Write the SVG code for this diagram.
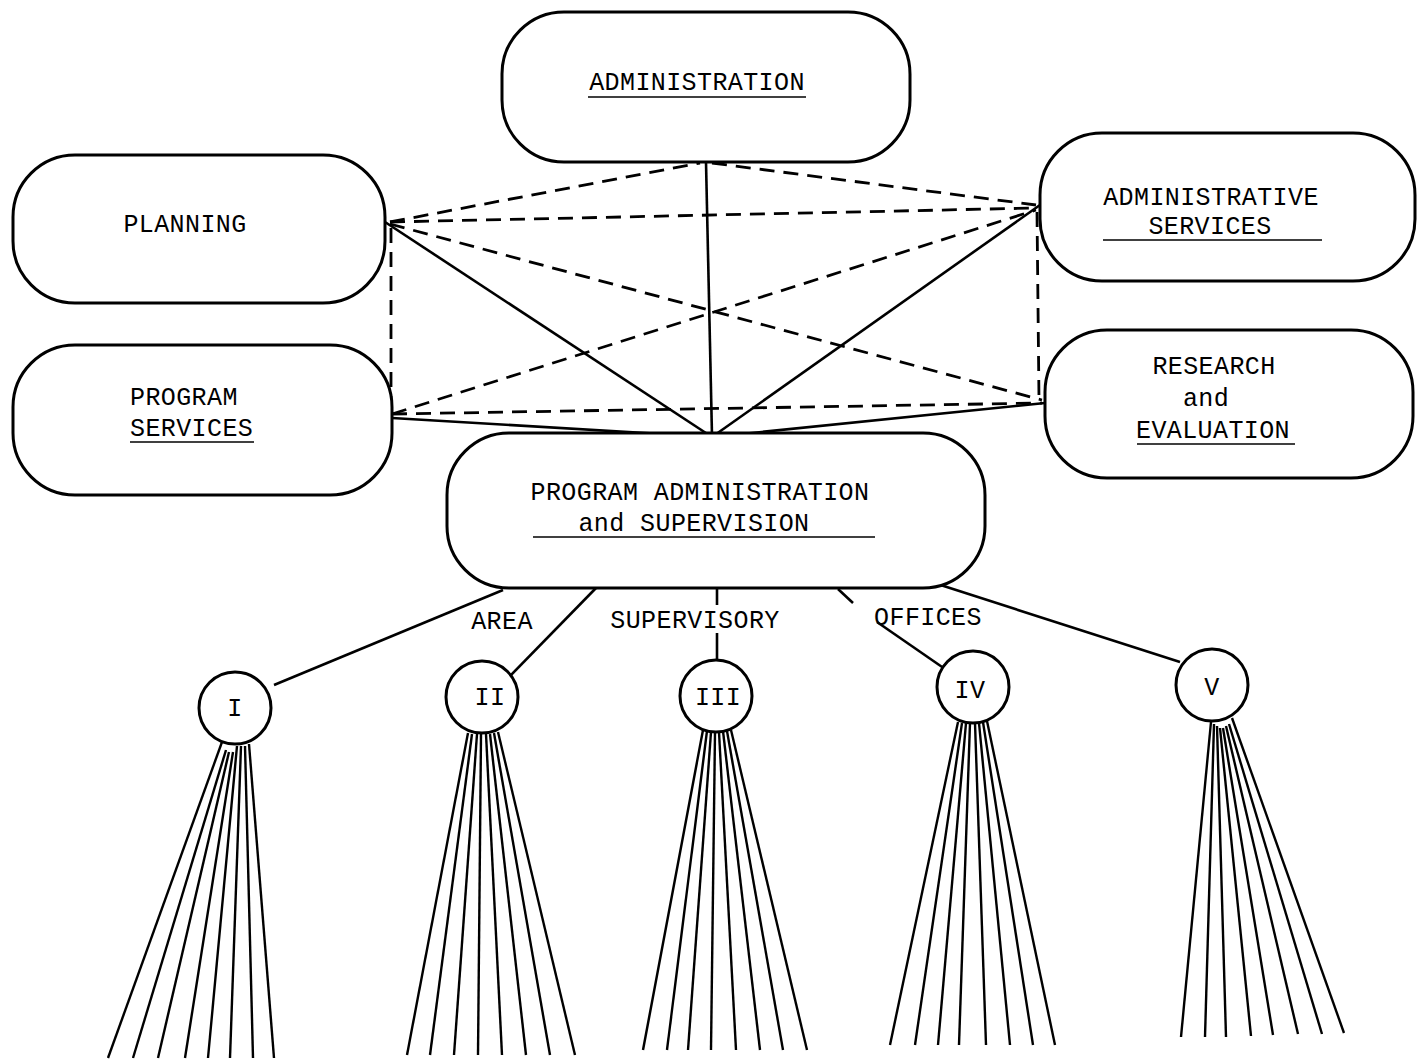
<svg xmlns="http://www.w3.org/2000/svg" width="1418" height="1061" viewBox="0 0 1418 1061">
<style>
.box{fill:#fff;stroke:#000;stroke-width:3}
.t{font-family:"Liberation Mono","DejaVu Sans Mono",monospace;font-size:25px;letter-spacing:0.4px;fill:#000}
.ul{stroke:#000;stroke-width:1.6}
.sol{stroke:#000;stroke-width:2.6;fill:none}
.dash{stroke:#000;stroke-width:2.8;fill:none;stroke-dasharray:15 9}
.fan{stroke:#000;stroke-width:2.4;fill:none}
</style>
<rect width="1418" height="1061" fill="#fff"/>
<g id="connectors">
  <line class="dash" x1="390" y1="222" x2="700" y2="163"/>
  <line class="dash" x1="712" y1="163" x2="1036" y2="205"/>
  <line class="dash" x1="390" y1="222" x2="1036" y2="208"/>
  <line class="dash" x1="390" y1="224" x2="1042" y2="400"/>
  <line class="dash" x1="392" y1="414" x2="1036" y2="210"/>
  <line class="dash" x1="392" y1="414" x2="1042" y2="403"/>
  <line class="dash" x1="391" y1="228" x2="391" y2="414"/>
  <line class="dash" x1="1037" y1="212" x2="1039" y2="400"/>
  <line class="sol" x1="706" y1="162" x2="712" y2="436"/>
  <line class="sol" x1="385" y1="222" x2="712" y2="437"/>
  <line class="sol" x1="1040" y1="205" x2="712" y2="437"/>
  <line class="sol" x1="392" y1="418" x2="712" y2="437"/>
  <line class="sol" x1="1045" y1="403" x2="712" y2="437"/>
  <line class="sol" x1="503" y1="590" x2="274" y2="685"/>
  <line class="sol" x1="596" y1="588" x2="508" y2="678"/>
  <line class="sol" x1="717" y1="588" x2="717" y2="605"/>
  <line class="sol" x1="717" y1="633" x2="717" y2="660"/>
  <line class="sol" x1="838" y1="589" x2="853" y2="603"/>
  <line class="sol" x1="877" y1="622" x2="945" y2="669"/>
  <line class="sol" x1="925" y1="580" x2="1180" y2="662"/>
  <g id="fan-I">
    <line class="fan" x1="222" y1="742" x2="108" y2="1058"/>
    <line class="fan" x1="226" y1="750" x2="133" y2="1058"/>
    <line class="fan" x1="229" y1="752" x2="158" y2="1058"/>
    <line class="fan" x1="233" y1="752" x2="185" y2="1058"/>
    <line class="fan" x1="237" y1="746" x2="208" y2="1058"/>
    <line class="fan" x1="241" y1="746" x2="230" y2="1058"/>
    <line class="fan" x1="245" y1="746" x2="253" y2="1058"/>
    <line class="fan" x1="249" y1="744" x2="274" y2="1058"/>
  </g>
  <g id="fan-II">
    <line class="fan" x1="468" y1="733" x2="407" y2="1055"/>
    <line class="fan" x1="472" y1="734" x2="430" y2="1055"/>
    <line class="fan" x1="477" y1="734" x2="454" y2="1055"/>
    <line class="fan" x1="481" y1="734" x2="478" y2="1055"/>
    <line class="fan" x1="486" y1="734" x2="502" y2="1055"/>
    <line class="fan" x1="490" y1="734" x2="526" y2="1055"/>
    <line class="fan" x1="494" y1="733" x2="550" y2="1055"/>
    <line class="fan" x1="498" y1="732" x2="575" y2="1055"/>
  </g>
  <g id="fan-III">
    <line class="fan" x1="703" y1="730" x2="643" y2="1050"/>
    <line class="fan" x1="707" y1="731" x2="667" y2="1050"/>
    <line class="fan" x1="711" y1="732" x2="688" y2="1050"/>
    <line class="fan" x1="715" y1="732" x2="711" y2="1050"/>
    <line class="fan" x1="719" y1="732" x2="736" y2="1050"/>
    <line class="fan" x1="723" y1="731" x2="760" y2="1050"/>
    <line class="fan" x1="727" y1="731" x2="783" y2="1050"/>
    <line class="fan" x1="731" y1="730" x2="807" y2="1050"/>
  </g>
  <g id="fan-IV">
    <line class="fan" x1="958" y1="722" x2="890" y2="1045"/>
    <line class="fan" x1="962" y1="723" x2="915" y2="1045"/>
    <line class="fan" x1="966" y1="723" x2="938" y2="1045"/>
    <line class="fan" x1="970" y1="723" x2="959" y2="1045"/>
    <line class="fan" x1="975" y1="723" x2="986" y2="1045"/>
    <line class="fan" x1="979" y1="723" x2="1010" y2="1045"/>
    <line class="fan" x1="983" y1="722" x2="1033" y2="1045"/>
    <line class="fan" x1="987" y1="721" x2="1055" y2="1045"/>
  </g>
  <g id="fan-V">
    <line class="fan" x1="1211" y1="722" x2="1181" y2="1037"/>
    <line class="fan" x1="1214" y1="724" x2="1205" y2="1037"/>
    <line class="fan" x1="1217" y1="726" x2="1226" y2="1037"/>
    <line class="fan" x1="1220" y1="728" x2="1251" y2="1036"/>
    <line class="fan" x1="1223" y1="728" x2="1273" y2="1035"/>
    <line class="fan" x1="1226" y1="726" x2="1298" y2="1034"/>
    <line class="fan" x1="1229" y1="724" x2="1322" y2="1034"/>
    <line class="fan" x1="1232" y1="718" x2="1344" y2="1033"/>
  </g>
</g>
<g id="administration">
  <rect class="box" x="502" y="12" width="408" height="150" rx="62"/>
  <text class="t" x="697" y="90" text-anchor="middle">ADMINISTRATION</text>
  <line class="ul" x1="588" y1="97" x2="806" y2="97"/>
</g>
<g id="planning">
  <rect class="box" x="13" y="155" width="372" height="148" rx="62"/>
  <text class="t" x="185" y="232" text-anchor="middle">PLANNING</text>
</g>
<g id="program-services">
  <rect class="box" x="13" y="345" width="379" height="150" rx="62"/>
  <text class="t" x="130" y="405">PROGRAM</text>
  <text class="t" x="130" y="436">SERVICES</text>
  <line class="ul" x1="130" y1="442" x2="254" y2="442"/>
</g>
<g id="administrative-services">
  <rect class="box" x="1040" y="133" width="375" height="148" rx="62"/>
  <text class="t" x="1211" y="205" text-anchor="middle">ADMINISTRATIVE</text>
  <text class="t" x="1210" y="234" text-anchor="middle">SERVICES</text>
  <line class="ul" x1="1103" y1="240" x2="1322" y2="240"/>
</g>
<g id="research-evaluation">
  <rect class="box" x="1045" y="330" width="368" height="148" rx="62"/>
  <text class="t" x="1214" y="374" text-anchor="middle">RESEARCH</text>
  <text class="t" x="1206" y="406" text-anchor="middle">and</text>
  <text class="t" x="1213" y="438" text-anchor="middle">EVALUATION</text>
  <line class="ul" x1="1137" y1="444" x2="1295" y2="444"/>
</g>
<g id="program-administration">
  <rect class="box" x="447" y="433" width="538" height="155" rx="62"/>
  <text class="t" x="700" y="500" text-anchor="middle">PROGRAM ADMINISTRATION</text>
  <text class="t" x="694" y="531" text-anchor="middle">and SUPERVISION</text>
  <line class="ul" x1="533" y1="537" x2="875" y2="537"/>
</g>
<g id="labels">
  <text class="t" x="502" y="629" text-anchor="middle">AREA</text>
  <text class="t" x="695" y="628" text-anchor="middle">SUPERVISORY</text>
  <text class="t" x="928" y="625" text-anchor="middle">OFFICES</text>
</g>
<g id="office-I">
  <circle class="box" cx="235" cy="708" r="36"/>
  <text class="t" x="235" y="716" text-anchor="middle">I</text>
</g>
<g id="office-II">
  <circle class="box" cx="482" cy="697" r="36"/>
  <text class="t" x="490" y="705" text-anchor="middle">II</text>
</g>
<g id="office-III">
  <circle class="box" cx="716" cy="696" r="36"/>
  <text class="t" x="718" y="705" text-anchor="middle">III</text>
</g>
<g id="office-IV">
  <circle class="box" cx="973" cy="687" r="36"/>
  <text class="t" x="970" y="698" text-anchor="middle">IV</text>
</g>
<g id="office-V">
  <circle class="box" cx="1212" cy="685" r="36"/>
  <text class="t" x="1212" y="695" text-anchor="middle">V</text>
</g>
</svg>
